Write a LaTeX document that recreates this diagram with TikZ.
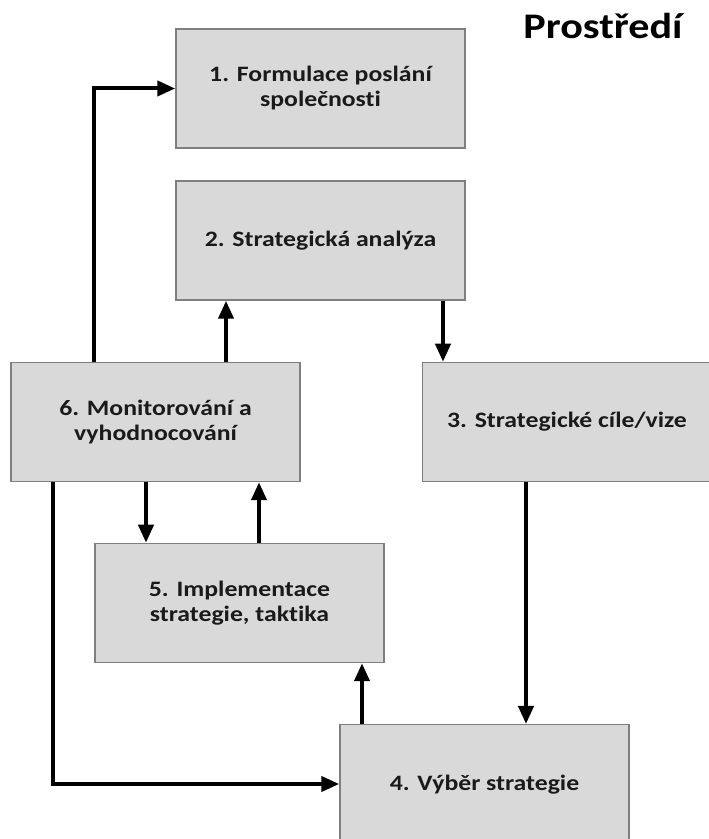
\documentclass[tikz,border=0pt]{standalone}
\usepackage{fontspec}
\setmainfont{Carlito}[FakeStretch=1.17, Ligatures=NoCommon]
\usetikzlibrary{arrows.meta}
\definecolor{boxfill}{HTML}{D9D9D9}
\definecolor{boxline}{HTML}{7F7F7F}
\definecolor{txt}{HTML}{1A1A1A}
\begin{document}
\begin{tikzpicture}[x=1pt,y=1pt,
  boxtext/.style={text=txt, align=center, font=\fontsize{22}{25}\selectfont\bfseries},
  stepbox/.style={draw=boxline, line width=1.5pt, fill=boxfill, minimum width=289pt, minimum height=119pt,
    inner sep=0pt, boxtext},
  arr/.style={line width=4pt, draw=black, -{Triangle[length=18pt,width=15pt]}}]
\useasboundingbox (0,0) rectangle (709,839);
% boxes (y measured upward: 839 - pixel y)
\node[stepbox] (b1) at (320.5,750.5) {1. Formulace poslání\\společnosti};
\node[stepbox] (b2) at (320.5,598.5) {2. Strategická analýza};
\node[stepbox] (b3) at (567,417) {3. Strategické cíle/vize};
\node[stepbox] (b6) at (155.5,417) {6. Monitorování a\\vyhodnocování};
\node[stepbox] (b5) at (239.5,236) {5. Implementace\\strategie, taktika};
\node[stepbox, minimum height=140pt, anchor=north,
  label={[boxtext, yshift=10pt]center:4. Výběr strategie}] (b4) at (484.5,115) {};
\node[anchor=base, font=\fontsize{36}{40}\selectfont\bfseries, text=black] (env) at (603,800) {Prostředí};
% columns for connectors
\coordinate (c1) at (94,0);
\coordinate (c2) at (226,0);
\coordinate (c3) at (443,0);
\coordinate (c4) at (526,0);
\coordinate (c5) at (146,0);
\coordinate (c6) at (259,0);
\coordinate (c7) at (362,0);
\coordinate (c8) at (53,0);
% connectors
\draw[arr] (b6.north -| c1) |- (b1.west);
\draw[arr] (b6.north -| c2) -- (b2.south -| c2);
\draw[arr] (b2.south -| c3) -- (b3.north -| c3);
\draw[arr] (b3.south -| c4) -- (b4.north -| c4);
\draw[arr] (b6.south -| c5) -- (b5.north -| c5);
\draw[arr] (b5.north -| c6) -- (b6.south -| c6);
\draw[arr] (b4.north -| c7) -- (b5.south -| c7);
\draw[arr] (b6.south -| c8) |- (b4.west |- 0,55);
\end{tikzpicture}
\end{document}
